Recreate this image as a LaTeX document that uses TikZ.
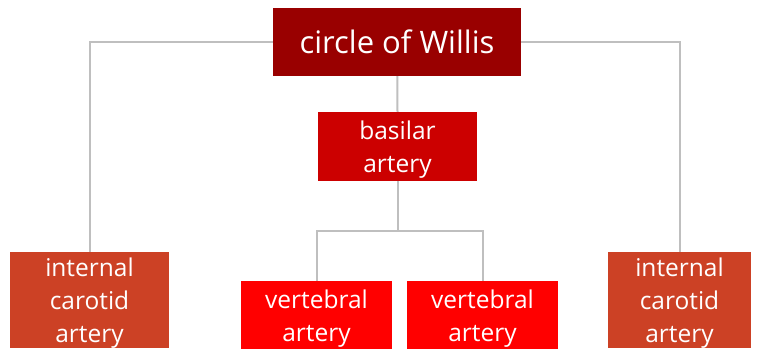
\documentclass[tikz,border=0pt]{standalone}
\usepackage{fontspec}
\usetikzlibrary{backgrounds}
\setmainfont{Open Sans}
\definecolor{cTop}{HTML}{990000}
\definecolor{cBas}{HTML}{CC0000}
\definecolor{cIca}{HTML}{CC4125}
\definecolor{cVert}{HTML}{FF0000}
\definecolor{cLine}{HTML}{BFBFBF}
\begin{document}
\begin{tikzpicture}[x=1pt,y=-1pt,
  box/.style={rectangle, inner sep=0pt, text=white, align=center, text depth=0pt, font=\fontsize{24.5}{33}\selectfont},
  conn/.style={draw=cLine, line width=2pt}]
\useasboundingbox (0,0) rectangle (759,348);
\node[box, fill=cTop, minimum width=248pt, minimum height=68pt, font=\fontsize{31}{34}\selectfont] (top) at (397,42) {circle of Willis};
\node[box, fill=cBas, minimum width=159pt, minimum height=69pt] (bas) at (397.5,146.5) {basilar\\artery};
\node[box, fill=cIca, minimum width=159pt, minimum height=96pt] (icaL) at (89.5,300) {internal\\carotid\\artery};
\node[box, fill=cIca, minimum width=143pt, minimum height=96pt] (icaR) at (679.5,300) {internal\\carotid\\artery};
\node[box, fill=cVert, minimum width=151pt, minimum height=69pt] (v1) at (316.5,315.5) {vertebral\\artery};
\node[box, fill=cVert, minimum width=151pt, minimum height=69pt] (v2) at (482.5,315.5) {vertebral\\artery};
\coordinate (split) at (397.5,231);
\begin{scope}[on background layer]
\draw[conn] (top.center) -| (icaL.north);
\draw[conn] (top.center) -| (icaR.north);
\draw[conn] (top.center) -- (bas.north);
\draw[conn] (bas.center) -- (split);
\draw[conn] (split) -| (v1.north);
\draw[conn] (split) -| (v2.north);
\end{scope}
\end{tikzpicture}
\end{document}
